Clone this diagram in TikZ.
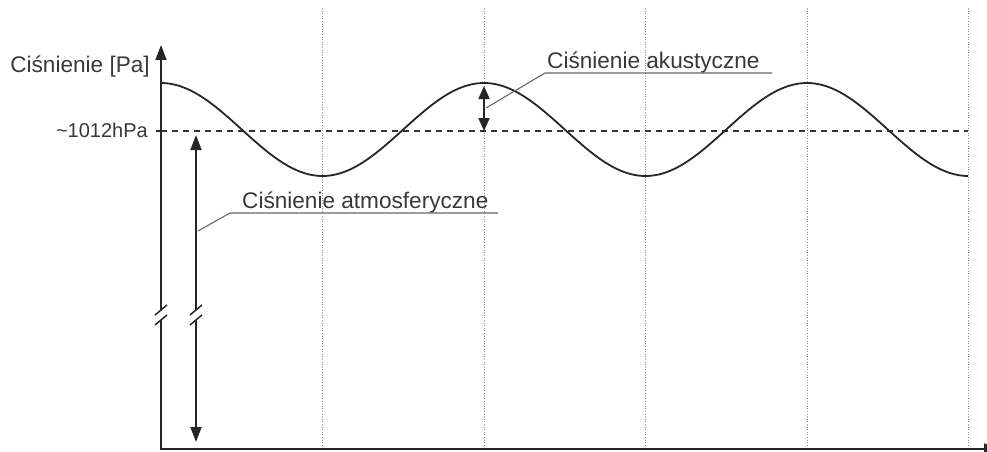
\documentclass[tikz,border=0pt]{standalone}
\usepackage{fontspec}
\setmainfont{Liberation Sans}
\usetikzlibrary{arrows.meta}
\tikzset{
  lbl/.style={text=black!78, inner sep=0pt, font=\fontsize{22.6}{26}\selectfont},
  smalllbl/.style={text=black!78, inner sep=0pt, font=\fontsize{20}{23}\selectfont},
  axisline/.style={line width=1.8pt, draw=black!85},
  wave/.style={line width=1.8pt, draw=black!85},
  arrowtip/.style={-{Triangle[width=11pt,length=15pt]}},
  dblarrow/.style={{Triangle[width=11pt,length=13pt]}-{Triangle[width=11pt,length=13pt]}},
  gridline/.style={draw=black!45, line width=1pt, dash pattern=on 1pt off 1.6pt},
  refline/.style={draw=black!80, line width=2.2pt, dash pattern=on 6pt off 5pt},
  leader/.style={draw=black!60, line width=1.1pt},
  brk/.style={draw=black!85, line width=1.5pt}
}
\begin{document}
\begin{tikzpicture}[x=1pt,y=-1pt]
\useasboundingbox (0,0) rectangle (987,452);
% coordinates
\coordinate (O) at (161,449);
\coordinate (ytop) at (161,45);
\coordinate (yb1) at (161,310);
\coordinate (yb2) at (161,320);
\coordinate (xtip) at (999,449);
% grid lines
\foreach \k in {1,...,5} {
  \coordinate (gt\k) at ({161+161.5*\k},8);
  \coordinate (gb\k) at ({161+161.5*\k},445);
  \draw[gridline] (gt\k) -- (gb\k);
}
% reference level
\coordinate (refl) at (161,131);
\coordinate (refr) at (968,131);
\draw[refline] (refl) -- (refr);
\coordinate (tickl) at (156,131);
\draw[axisline, line width=1.4pt] (tickl) -- (refl);
% wave
\draw[wave] plot[domain=0:807, samples=240, smooth] ({161+\x}, {129.5-46.5*cos(1.114551*\x)});
% axes
\draw[axisline, arrowtip] (yb1) -- (ytop);
\draw[axisline, arrowtip] (yb2) -- (O) -- (xtip);
% break marks on axis
\coordinate (s1a) at (155,315); \coordinate (s1b) at (167,305);
\coordinate (s2a) at (155,325); \coordinate (s2b) at (167,315);
\draw[brk] (s1a) -- (s1b);
\draw[brk] (s2a) -- (s2b);
% atmospheric arrow
\coordinate (at) at (196,135);
\coordinate (ab1) at (196,310);
\coordinate (ab2) at (196,320);
\coordinate (ab) at (196,442);
\draw[axisline, arrowtip] (ab1) -- (at);
\draw[axisline, arrowtip] (ab2) -- (ab);
\coordinate (t1a) at (190,315); \coordinate (t1b) at (202,305);
\coordinate (t2a) at (190,325); \coordinate (t2b) at (202,315);
\draw[brk] (t1a) -- (t1b);
\draw[brk] (t2a) -- (t2b);
% acoustic arrow
\coordinate (ac1) at (484,86);
\coordinate (ac2) at (484,131);
\draw[axisline, dblarrow] (ac1) -- (ac2);
% labels
\node[lbl, anchor=base east] (ylab) at (150,72) {Ciśnienie [Pa]};
\node[smalllbl, anchor=base east] (reflab) at (148,137) {\textasciitilde 1012hPa};
\node[lbl, anchor=base west] (aklab) at (547,68) {Ciśnienie akustyczne};
\node[lbl, anchor=base west] (atlab) at (242,208) {Ciśnienie atmosferyczne};
% leaders
\coordinate (u1a) at (545,73); \coordinate (u1b) at (772,73); \coordinate (u1c) at (486,108);
\draw[leader] (u1b) -- (u1a) -- (u1c);
\coordinate (u2a) at (230,213); \coordinate (u2b) at (498,213); \coordinate (u2c) at (198,231);
\draw[leader] (u2b) -- (u2a) -- (u2c);
\end{tikzpicture}
\end{document}
